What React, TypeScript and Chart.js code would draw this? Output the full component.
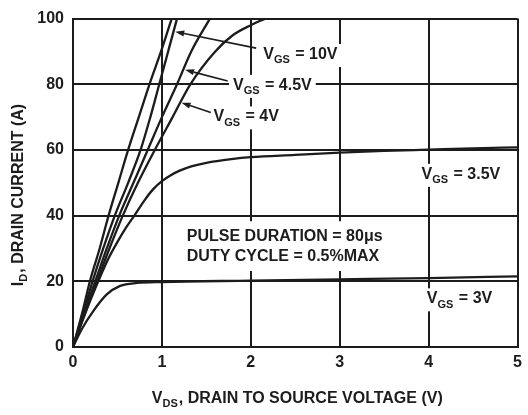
import React, { useEffect, useRef } from 'react';
import { Chart, registerables } from 'chart.js';
Chart.register(...registerables);

// ---- data (V_DS in volts, I_D in amps) ----
const xTickValues = [0, 1, 2, 3, 4, 5];
const yTickValues = [0, 20, 40, 60, 80, 100];

// steepest (unlabelled) curve
const curveA_V = [0, 0.1, 0.19, 0.3, 0.4, 0.51, 0.62, 0.74, 0.86, 0.99, 1.11];
const curveA_I = [0, 10, 20, 30, 40, 50, 60, 70, 80, 90, 100];
// VGS = 10V
const vgs10_V = [0, 0.11, 0.22, 0.34, 0.47, 0.62, 0.76, 0.87, 0.97, 1.07, 1.17];
const vgs10_I = [0, 10, 20, 30, 40, 50, 60, 70, 80, 90, 100];
// VGS = 4.5V
const vgs45_V = [0, 0.12, 0.25, 0.38, 0.52, 0.68, 0.84, 1.0, 1.17, 1.33, 1.54];
const vgs45_I = [0, 10, 20, 30, 40, 50, 60, 70, 80, 90, 100];
// VGS = 4V
const vgs4_V = [0, 0.13, 0.27, 0.41, 0.56, 0.73, 0.92, 1.12, 1.32, 1.6, 1.8, 2.0, 2.16];
const vgs4_I = [0, 10, 20, 30, 40, 50, 60, 70, 80, 90, 95, 98, 100];
// VGS = 3.5V
const vgs35_V = [0, 0.1, 0.2, 0.3, 0.4, 0.5, 0.6, 0.69, 0.8, 0.9, 1.0, 1.1, 1.2, 1.34, 1.5, 1.78, 2.0, 2.5, 3.0, 3.5, 4.0, 4.5, 5.0];
const vgs35_I = [0, 7.5, 14.5, 21, 27, 32, 36.5, 40, 44.5, 48, 50.5, 52.3, 53.7, 55.1, 56.1, 57.2, 57.8, 58.5, 59.2, 59.7, 60.1, 60.5, 60.8];
// VGS = 3V
const vgs3_V = [0, 0.1, 0.23, 0.38, 0.53, 0.72, 1.0, 2.0, 3.0, 4.0, 5.0];
const vgs3_I = [0, 5.5, 11, 16, 18.6, 19.5, 19.8, 20.2, 20.6, 21.0, 21.5];

// curve labels: text, anchor (V, A)
const labelTexts = ['10V', '4.5V', '4V', '3.5V', '3V'];
const labelX = [2.14, 1.8, 1.58, 3.92, 3.98];
const labelY = [87.7, 78.3, 68.7, 51.2, 13.3];
// arrows: tail -> tip (V, A)
const arrowTailX = [2.06, 1.74, 1.55];
const arrowTailY = [91.0, 81.0, 71.4];
const arrowTipX = [1.15, 1.26, 1.22];
const arrowTipY = [96.0, 84.4, 74.4];
// note text
const noteLines = ['PULSE DURATION = 80\u03BCs', 'DUTY CYCLE = 0.5%MAX'];
const noteX = 1.28;
const noteY = [32.2, 26.2];

const FONT = '"Liberation Sans", Arial, sans-serif';
const INK = '#1c1c1c';

function pts(xs: number[], ys: number[]) {
  return xs.map((v, i) => ({ x: v, y: ys[i] }));
}

type Part = [string, boolean];

function richWidth(ctx: CanvasRenderingContext2D, parts: Part[], size: number) {
  let w = 0;
  for (const [t, sub] of parts) {
    ctx.font = `bold ${sub ? Math.round(size * 0.68) : size}px ${FONT}`;
    w += ctx.measureText(t).width + (sub ? 1 : 0);
  }
  return w;
}

function drawRich(ctx: CanvasRenderingContext2D, parts: Part[], x: number, y: number, size: number) {
  let cx = x;
  for (const [t, sub] of parts) {
    ctx.font = `bold ${sub ? Math.round(size * 0.68) : size}px ${FONT}`;
    ctx.fillText(t, cx, sub ? y + size * 0.28 : y);
    cx += ctx.measureText(t).width + (sub ? 1 : 0);
  }
  return cx - x;
}

const annotPlugin = {
  id: 'annot',
  afterDatasetsDraw(chart: any) {
    const { ctx, scales } = chart;
    const xs = scales.x;
    const ys = scales.y;
    const size = 16;
    ctx.save();
    ctx.textBaseline = 'alphabetic';
    ctx.textAlign = 'left';
    // curve labels
    labelTexts.forEach((t, i) => {
      const parts: Part[] = [['V', false], ['GS', true], [' = ' + t, false]];
      const px = xs.getPixelForValue(labelX[i]);
      const py = ys.getPixelForValue(labelY[i]);
      const w = richWidth(ctx, parts, size);
      ctx.fillStyle = '#ffffff';
      ctx.fillRect(px - 4, py - 15, w + 8, 23);
      ctx.fillStyle = INK;
      drawRich(ctx, parts, px, py, size);
    });
    // note
    {
      const px = xs.getPixelForValue(noteX);
      const py0 = ys.getPixelForValue(noteY[0]);
      const py1 = ys.getPixelForValue(noteY[1]);
      ctx.font = `bold ${size}px ${FONT}`;
      const w = Math.max(...noteLines.map((l) => ctx.measureText(l).width));
      ctx.fillStyle = '#ffffff';
      ctx.fillRect(px - 4, py0 - 20, w + 8, py1 - py0 + 30);
      ctx.fillStyle = INK;
      noteLines.forEach((l, i) => {
        ctx.fillText(l, px, ys.getPixelForValue(noteY[i]));
      });
    }
    // arrows
    ctx.strokeStyle = INK;
    ctx.fillStyle = INK;
    ctx.lineWidth = 1.6;
    arrowTailX.forEach((_, i) => {
      const x0 = xs.getPixelForValue(arrowTailX[i]);
      const y0 = ys.getPixelForValue(arrowTailY[i]);
      const x1 = xs.getPixelForValue(arrowTipX[i]);
      const y1 = ys.getPixelForValue(arrowTipY[i]);
      const ang = Math.atan2(y1 - y0, x1 - x0);
      const hl = 9;
      const hw = 3;
      const bx = x1 - hl * Math.cos(ang);
      const by = y1 - hl * Math.sin(ang);
      ctx.beginPath();
      ctx.moveTo(x0, y0);
      ctx.lineTo(bx, by);
      ctx.stroke();
      ctx.beginPath();
      ctx.moveTo(x1, y1);
      ctx.lineTo(bx + hw * Math.sin(ang), by - hw * Math.cos(ang));
      ctx.lineTo(bx - hw * Math.sin(ang), by + hw * Math.cos(ang));
      ctx.closePath();
      ctx.fill();
    });
    ctx.restore();
  },
  afterDraw(chart: any) {
    const { ctx, chartArea } = chart;
    const size = 16;
    ctx.save();
    ctx.fillStyle = INK;
    ctx.textBaseline = 'alphabetic';
    ctx.textAlign = 'left';
    // x title
    const xParts: Part[] = [['V', false], ['DS', true], [', DRAIN TO SOURCE VOLTAGE (V)', false]];
    const xw = richWidth(ctx, xParts, size);
    const xc = (chartArea.left + chartArea.right) / 2 + 2;
    drawRich(ctx, xParts, xc - xw / 2, 403, size);
    // y title
    const yParts: Part[] = [['I', false], ['D', true], [', DRAIN CURRENT (A)', false]];
    const yw = richWidth(ctx, yParts, size);
    ctx.translate(23, 195);
    ctx.rotate(-Math.PI / 2);
    drawRich(ctx, yParts, -yw / 2, 0, size);
    ctx.restore();
  },
};

export default function App() {
  const ref = useRef<HTMLCanvasElement>(null);
  useEffect(() => {
    document.body.style.margin = '0';
    const ds = (xs: number[], ys: number[]) => ({
      data: pts(xs, ys),
      showLine: true,
      borderColor: INK,
      borderWidth: 2.3,
      pointRadius: 0,
      fill: false,
      cubicInterpolationMode: 'monotone' as const,
    });
    const chart = new Chart(ref.current as HTMLCanvasElement, {
      type: 'scatter',
      data: {
        datasets: [
          ds(curveA_V, curveA_I),
          ds(vgs10_V, vgs10_I),
          ds(vgs45_V, vgs45_I),
          ds(vgs4_V, vgs4_I),
          ds(vgs35_V, vgs35_I),
          ds(vgs3_V, vgs3_I),
        ],
      },
      options: {
        responsive: false,
        animation: false,
        layout: { padding: { left: 0, top: 15, right: 5, bottom: 0 } },
        plugins: { legend: { display: false }, tooltip: { enabled: false } },
        scales: {
          x: {
            type: 'linear',
            min: 0,
            max: 5,
            afterBuildTicks: (s: any) => {
              s.ticks = xTickValues.map((v) => ({ value: v }));
            },
            afterFit: (s: any) => {
              s.height = 68;
            },
            ticks: {
              color: INK,
              padding: 6,
              maxRotation: 0,
              font: { family: FONT, weight: 'bold', size: 16 },
            },
            grid: { color: INK, lineWidth: 2, drawTicks: false },
            border: { color: INK, width: 2 },
          },
          y: {
            type: 'linear',
            min: 0,
            max: 100,
            afterBuildTicks: (s: any) => {
              s.ticks = yTickValues.map((v) => ({ value: v }));
            },
            afterFit: (s: any) => {
              s.width = 73;
            },
            ticks: {
              color: INK,
              padding: 9,
              font: { family: FONT, weight: 'bold', size: 16 },
            },
            grid: { color: INK, lineWidth: 2, drawTicks: false },
            border: { color: INK, width: 2 },
          },
        },
      },
      plugins: [annotPlugin],
    } as any);
    return () => chart.destroy();
  }, []);
  return <canvas ref={ref} width={528} height={415} style={{ display: 'block' }} />;
}
